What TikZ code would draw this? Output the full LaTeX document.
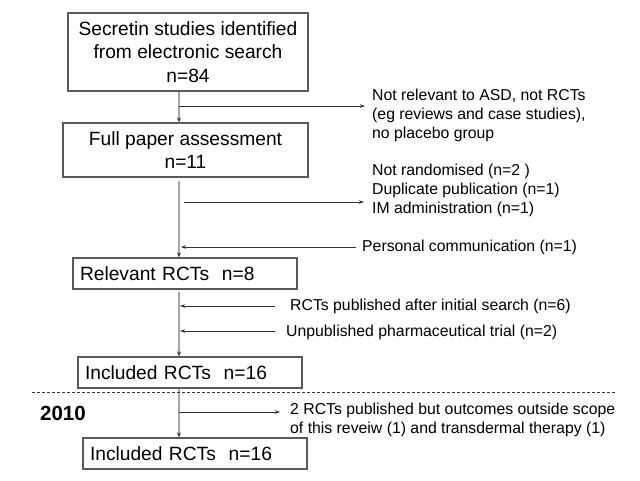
\documentclass[tikz,border=0pt]{standalone}
\usepackage{fontspec}
\setmainfont{Liberation Sans}
\usetikzlibrary{arrows.meta,calc}
\definecolor{boxline}{HTML}{5A5A5A}
\definecolor{flowline}{HTML}{A6A6A6}
\definecolor{sideline}{HTML}{333333}
\begin{document}
\begin{tikzpicture}[x=1pt,y=-1pt,
  flowbox/.style={draw=boxline,line width=1.3pt,inner sep=0pt,align=center,
    font=\fontsize{19.2}{23.5}\selectfont},
  leftbox/.style={draw=boxline,line width=1.3pt,inner xsep=7pt,inner ysep=0pt,
    minimum height=31pt,text width=210pt,align=left,
    font=\fontsize{19.2}{23.5}\selectfont},
  sidetext/.style={anchor=west,inner sep=0pt,align=left,
    font=\fontsize{15.8}{19}\selectfont},
  mainflow/.style={draw=flowline,line width=2pt,-{Stealth[length=5pt,width=4pt,color=black!80]}},
  sidearrow/.style={draw=sideline,line width=0.9pt,-{Stealth[length=5pt,width=3.5pt]}},
  year/.style={font=\fontsize{20.5}{24}\selectfont\bfseries,inner sep=0pt}]
\useasboundingbox (0,0) rectangle (640,480);
\fill[white] (0,0) rectangle (640,480);

\coordinate (axis) at (179,0);

\node[flowbox,minimum width=240pt,minimum height=78pt] (b1) at (188,52)
  {Secretin studies identified\\from electronic search\\n=84};
\node[flowbox,minimum width=245pt,minimum height=54pt] (b2) at (185.5,150)
  {Full paper assessment\\n=11};
\node[leftbox] (b3) at (185,273.5) {Relevant RCTs~~n=8};
\node[leftbox] (b4) at (190,372.5) {Included RCTs~~n=16};
\node[leftbox] (b5) at (195,453.5) {Included RCTs~~n=16};

% main flow
\draw[mainflow] (b1.south -| axis) -- (b2.north -| axis);
\draw[mainflow] ($(b2.south -| axis)+(0,3)$) -- (b3.north -| axis);
\draw[mainflow] ($(b3.south -| axis)+(0,2)$) -- (b4.north -| axis);
\draw[mainflow] (b4.south -| axis) -- (b5.north -| axis);

% side texts
\node[sidetext] (t1) at (372,115)
  {Not relevant to ASD, not RCTs\\(eg reviews and case studies),\\no placebo group};
\node[sidetext] (t2) at (372,190)
  {Not randomised (n=2 )\\Duplicate publication (n=1)\\IM administration (n=1)};
\node[sidetext] (t3) at (362,247) {Personal communication (n=1)};
\node[sidetext] (t4) at (290,306) {RCTs published after initial search (n=6)};
\node[sidetext] (t5) at (286,332) {Unpublished pharmaceutical trial (n=2)};
\node[sidetext] (t6) at (290,419.5)
  {2 RCTs published but outcomes outside scope\\of this reveiw (1) and transdermal therapy (1)};
\node[year] (y) at (63,413) {2010};

% side arrows
\coordinate (c1) at (179,106);
\coordinate (c2) at (184,202);
\coordinate (c3) at (181,247);
\coordinate (c4) at (180,306);
\coordinate (c5) at (180,331);
\coordinate (c6) at (179,412);
\draw[sidearrow] (c1) -- ($(t1.west |- c1)+(-7,0)$);
\draw[sidearrow] (c2) -- ($(t2.west |- c2)+(-8,0)$);
\draw[sidearrow] ($(t3.west)+(-6,0)$) -- (c3);
\draw[sidearrow] ($(t4.west)+(-15,0)$) -- (c4);
\draw[sidearrow] ($(t5.west |- c5)+(-11,0)$) -- (c5);
\draw[sidearrow] (c6) -- ($(t6.west |- c6)+(-10,0)$);

% dashed separator
\coordinate (d1) at (32,392);
\coordinate (d2) at (615,392);
\draw[draw=sideline,line width=0.8pt,dash pattern=on 3pt off 2pt] (d1) -- (d2);
\end{tikzpicture}
\end{document}
